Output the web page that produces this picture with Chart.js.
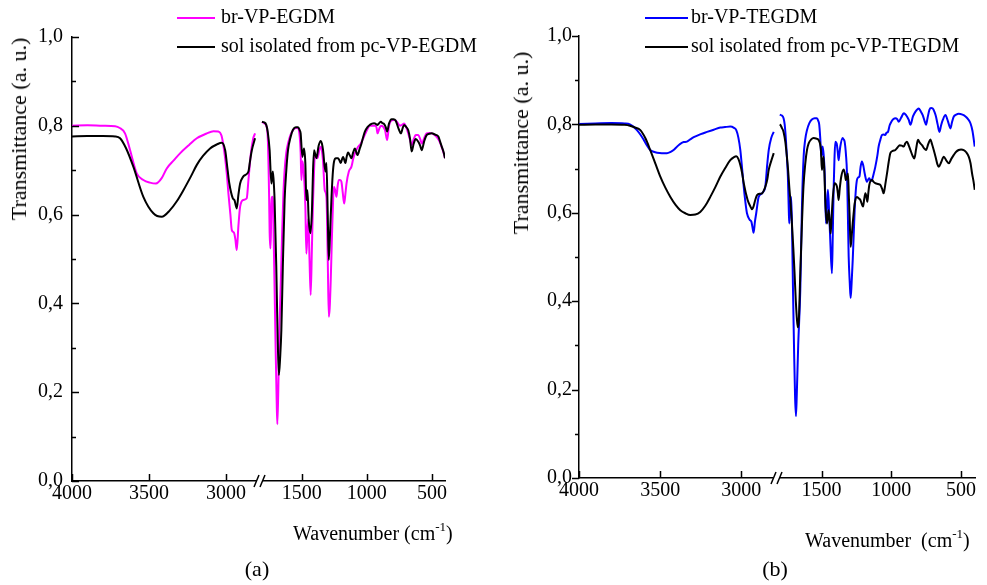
<!DOCTYPE html>
<html>
<head>
<meta charset="utf-8">
<script src="https://cdn.jsdelivr.net/npm/chart.js@4.4.0/dist/chart.umd.min.js"></script>
<style>
html,body{margin:0;padding:0;background:#fff;width:987px;height:585px;overflow:hidden;font-family:"Liberation Serif","Times New Roman",serif;color:#000;}
canvas{position:absolute;top:0;display:block;}
#ca{left:0;}
#cb{left:493px;}
.txt{position:absolute;white-space:nowrap;font-size:20px;line-height:20px;}
.ln{position:absolute;height:2px;}
.ytitle{position:absolute;white-space:nowrap;font-size:22px;line-height:22px;transform:translate(-50%,-50%) rotate(-90deg);}
sup{font-size:13px;position:relative;top:-1px;}
.cap{position:absolute;white-space:nowrap;font-size:22px;line-height:22px;transform:translateX(-50%);}
</style>
</head>
<body>
<canvas id="ca" width="493" height="585"></canvas>
<canvas id="cb" width="494" height="585"></canvas>

<!-- legends -->
<div class="ln" style="left:177px;top:17px;width:38px;background:#ff00ff"></div>
<div class="txt" style="left:221px;top:6px">br-VP-EGDM</div>
<div class="ln" style="left:177px;top:46px;width:38px;background:#000"></div>
<div class="txt" style="left:221px;top:35px">sol isolated from pc-VP-EGDM</div>

<div class="ln" style="left:645px;top:17px;width:43px;background:#0000ff"></div>
<div class="txt" style="left:691px;top:6px">br-VP-TEGDM</div>
<div class="ln" style="left:645px;top:46px;width:43px;background:#000"></div>
<div class="txt" style="left:691px;top:35px">sol isolated from pc-VP-TEGDM</div>

<!-- axis titles -->
<div class="ytitle" style="left:19px;top:129px">Transmittance (a. u.)</div>
<div class="ytitle" style="left:521px;top:143px">Transmittance (a. u.)</div>
<div class="txt" style="left:293px;top:518px">Wavenumber (cm<sup>-1</sup>)</div>
<div class="txt" style="left:805px;top:525px">Wavenumber&nbsp; (cm<sup>-1</sup>)</div>

<!-- captions -->
<div class="cap" style="left:257px;top:558px">(a)</div>
<div class="cap" style="left:775px;top:558px">(b)</div>

<script>
// ---------- data (wavenumber cm-1, transmittance) ----------
const xTicksLeft = [4000, 3500, 3000];
const xTicksRight = [1500, 1000, 500];
const yTickValues = [0, 0.2, 0.4, 0.6, 0.8, 1.0];
const yTickLabels = ['0,0', '0,2', '0,4', '0,6', '0,8', '1,0'];
const yMinorValues = [0.1, 0.3, 0.5, 0.7, 0.9];

const labelsA = ['br-VP-EGDM', 'sol isolated from pc-VP-EGDM'];
const labelsB = ['br-VP-TEGDM', 'sol isolated from pc-VP-TEGDM'];

const brEGDM = [
[4000,0.800],[3900,0.801],[3800,0.800],[3720,0.799],[3690,0.795],[3656,0.783],[3623,0.745],[3580,0.693],[3537,0.678],[3494,0.672],[3455,0.670],[3418,0.682],[3385,0.704],[3340,0.722],[3299,0.738],[3240,0.757],[3190,0.772],[3130,0.782],[3082,0.788],[3050,0.787],[3030,0.778],[3013,0.745],[2995,0.690],[2985,0.648],[2972,0.600],[2963,0.565],[2950,0.560],[2940,0.545],[2931,0.520],[2920,0.575],[2909,0.618],[2888,0.633],[2866,0.637],[2855,0.678],[2840,0.735],[2825,0.770],[2812,0.783],
[1805,0.809],[1790,0.806],[1772,0.800],[1760,0.770],[1750,0.640],[1746,0.560],[1740,0.524],[1736,0.560],[1733,0.625],[1725,0.640],[1721,0.630],[1712,0.500],[1700,0.300],[1692,0.180],[1687,0.128],[1680,0.200],[1672,0.330],[1660,0.450],[1650,0.560],[1640,0.650],[1631,0.700],[1618,0.740],[1605,0.760],[1585,0.780],[1567,0.790],[1545,0.795],[1528,0.795],[1515,0.775],[1508,0.740],[1502,0.678],[1495,0.720],[1485,0.700],[1472,0.620],[1464,0.512],[1456,0.560],[1449,0.590],[1440,0.500],[1431,0.419],[1422,0.520],[1413,0.630],[1405,0.700],[1400,0.730],[1390,0.735],[1379,0.727],[1365,0.745],[1354,0.753],[1345,0.745],[1336,0.720],[1323,0.655],[1310,0.640],[1300,0.500],[1292,0.370],[1285,0.390],[1277,0.453],[1267,0.558],[1258,0.640],[1252,0.663],[1243,0.655],[1233,0.640],[1224,0.665],[1215,0.678],[1205,0.678],[1195,0.674],[1185,0.650],[1174,0.625],[1165,0.645],[1156,0.670],[1138,0.697],[1118,0.708],[1105,0.725],[1092,0.738],[1067,0.753],[1046,0.760],[1030,0.770],[1015,0.780],[995,0.793],[977,0.800],[955,0.800],[933,0.800],[925,0.795],[918,0.783],[905,0.793],[892,0.800],[875,0.798],[860,0.790],[844,0.768],[830,0.800],[810,0.812],[795,0.813],[779,0.812],[760,0.805],[746,0.800],[730,0.802],[713,0.805],[700,0.798],[682,0.783],[670,0.770],[656,0.757],[640,0.770],[625,0.779],[605,0.779],[590,0.770],[579,0.760],[560,0.772],[541,0.783],[520,0.784],[502,0.783],[475,0.778],[451,0.770],[438,0.762],[425,0.752],[410,0.738],[400,0.727]
];

const solEGDM = [
[4000,0.776],[3900,0.777],[3800,0.777],[3720,0.776],[3688,0.772],[3650,0.750],[3602,0.708],[3537,0.640],[3472,0.603],[3418,0.595],[3364,0.610],[3320,0.630],[3277,0.655],[3230,0.685],[3190,0.712],[3150,0.732],[3104,0.749],[3060,0.758],[3028,0.762],[3006,0.745],[2990,0.700],[2979,0.670],[2957,0.637],[2945,0.632],[2931,0.614],[2920,0.645],[2909,0.670],[2890,0.685],[2877,0.689],[2855,0.697],[2845,0.720],[2833,0.745],[2812,0.772],
[1805,0.809],[1790,0.808],[1772,0.802],[1760,0.785],[1746,0.745],[1733,0.670],[1725,0.690],[1721,0.697],[1712,0.660],[1708,0.633],[1695,0.483],[1685,0.330],[1675,0.239],[1665,0.280],[1656,0.340],[1645,0.480],[1631,0.633],[1618,0.700],[1605,0.745],[1585,0.775],[1567,0.791],[1545,0.797],[1528,0.797],[1515,0.790],[1508,0.783],[1495,0.730],[1482,0.749],[1472,0.716],[1464,0.633],[1456,0.655],[1446,0.588],[1433,0.558],[1421,0.610],[1413,0.700],[1405,0.745],[1395,0.735],[1387,0.727],[1370,0.755],[1354,0.766],[1345,0.760],[1336,0.745],[1318,0.697],[1310,0.716],[1300,0.600],[1292,0.498],[1282,0.560],[1272,0.633],[1262,0.690],[1252,0.719],[1237,0.727],[1221,0.727],[1210,0.722],[1200,0.716],[1190,0.725],[1182,0.730],[1164,0.716],[1155,0.730],[1144,0.740],[1130,0.733],[1118,0.727],[1105,0.740],[1092,0.749],[1072,0.734],[1055,0.748],[1041,0.760],[1028,0.775],[1015,0.787],[995,0.797],[977,0.802],[960,0.805],[944,0.806],[930,0.804],[918,0.802],[905,0.806],[892,0.809],[880,0.806],[867,0.804],[855,0.797],[844,0.787],[830,0.805],[810,0.815],[795,0.815],[779,0.812],[758,0.795],[738,0.783],[725,0.795],[713,0.802],[700,0.798],[682,0.790],[668,0.770],[656,0.742],[640,0.760],[625,0.770],[605,0.764],[590,0.755],[579,0.745],[560,0.765],[541,0.779],[520,0.782],[502,0.783],[475,0.780],[451,0.776],[438,0.765],[425,0.753],[410,0.740],[400,0.727]
];

const brTEGDM = [
[4000,0.801],[3900,0.802],[3800,0.803],[3720,0.802],[3686,0.800],[3665,0.795],[3643,0.787],[3620,0.776],[3601,0.765],[3580,0.752],[3561,0.742],[3540,0.738],[3519,0.736],[3490,0.735],[3458,0.735],[3435,0.738],[3417,0.742],[3395,0.750],[3376,0.756],[3355,0.760],[3335,0.761],[3315,0.766],[3293,0.771],[3250,0.778],[3211,0.783],[3170,0.788],[3129,0.793],[3100,0.794],[3068,0.795],[3045,0.792],[3031,0.787],[3018,0.770],[3006,0.742],[2995,0.700],[2985,0.659],[2975,0.625],[2965,0.599],[2948,0.584],[2938,0.580],[2930,0.565],[2924,0.555],[2916,0.580],[2908,0.599],[2893,0.636],[2872,0.644],[2860,0.650],[2852,0.659],[2840,0.710],[2831,0.742],[2815,0.770],[2800,0.783],
[1800,0.822],[1785,0.820],[1773,0.814],[1765,0.800],[1756,0.765],[1748,0.720],[1742,0.682],[1735,0.600],[1732,0.576],[1725,0.620],[1718,0.636],[1712,0.560],[1705,0.420],[1697,0.280],[1690,0.180],[1684,0.140],[1678,0.190],[1668,0.300],[1653,0.425],[1641,0.614],[1629,0.727],[1618,0.765],[1605,0.787],[1588,0.803],[1570,0.811],[1550,0.814],[1534,0.814],[1524,0.808],[1517,0.799],[1510,0.770],[1502,0.727],[1493,0.750],[1485,0.730],[1478,0.689],[1469,0.576],[1462,0.610],[1455,0.652],[1446,0.600],[1438,0.538],[1426,0.463],[1420,0.550],[1414,0.652],[1408,0.720],[1402,0.761],[1392,0.757],[1385,0.740],[1378,0.719],[1372,0.735],[1366,0.750],[1349,0.769],[1342,0.766],[1335,0.761],[1325,0.730],[1318,0.689],[1312,0.600],[1306,0.501],[1298,0.440],[1292,0.407],[1285,0.440],[1277,0.493],[1270,0.550],[1263,0.606],[1255,0.650],[1247,0.674],[1238,0.680],[1229,0.682],[1220,0.705],[1211,0.716],[1200,0.705],[1191,0.689],[1175,0.670],[1165,0.676],[1158,0.678],[1148,0.672],[1139,0.674],[1127,0.688],[1115,0.704],[1100,0.730],[1091,0.750],[1079,0.765],[1067,0.776],[1055,0.777],[1043,0.776],[1035,0.781],[1024,0.783],[1012,0.798],[1000,0.806],[985,0.812],[971,0.814],[958,0.812],[947,0.806],[930,0.815],[911,0.825],[900,0.823],[888,0.818],[875,0.810],[863,0.799],[845,0.818],[827,0.829],[804,0.836],[790,0.830],[775,0.821],[762,0.808],[751,0.799],[740,0.815],[727,0.833],[715,0.837],[703,0.836],[690,0.828],[680,0.818],[668,0.800],[655,0.783],[643,0.798],[631,0.810],[612,0.821],[595,0.808],[576,0.791],[565,0.805],[552,0.818],[535,0.822],[517,0.824],[490,0.822],[468,0.818],[450,0.812],[432,0.802],[418,0.785],[402,0.750]
];

const solTEGDM = [
[4000,0.799],[3900,0.800],[3800,0.800],[3720,0.799],[3686,0.797],[3655,0.793],[3622,0.787],[3590,0.768],[3561,0.742],[3530,0.712],[3499,0.682],[3468,0.657],[3437,0.636],[3405,0.618],[3376,0.606],[3345,0.599],[3314,0.595],[3283,0.596],[3253,0.602],[3222,0.616],[3191,0.636],[3160,0.658],[3129,0.682],[3098,0.702],[3068,0.719],[3045,0.726],[3031,0.728],[3018,0.722],[3006,0.708],[2995,0.690],[2985,0.667],[2961,0.629],[2945,0.615],[2934,0.608],[2924,0.615],[2914,0.629],[2903,0.640],[2885,0.643],[2872,0.644],[2852,0.659],[2840,0.675],[2831,0.697],[2815,0.718],[2800,0.735],
[1800,0.800],[1796,0.799],[1785,0.792],[1773,0.783],[1760,0.760],[1749,0.727],[1740,0.695],[1732,0.659],[1722,0.620],[1713,0.576],[1703,0.520],[1694,0.463],[1685,0.400],[1676,0.355],[1670,0.341],[1663,0.360],[1653,0.463],[1641,0.576],[1630,0.660],[1617,0.712],[1605,0.742],[1593,0.757],[1575,0.766],[1557,0.769],[1540,0.768],[1522,0.765],[1512,0.757],[1505,0.742],[1498,0.697],[1492,0.712],[1486,0.727],[1480,0.690],[1474,0.629],[1462,0.576],[1456,0.590],[1450,0.606],[1442,0.580],[1435,0.553],[1428,0.590],[1421,0.629],[1407,0.667],[1398,0.665],[1390,0.659],[1384,0.645],[1378,0.629],[1370,0.655],[1359,0.682],[1342,0.698],[1334,0.690],[1326,0.674],[1318,0.680],[1311,0.689],[1305,0.640],[1299,0.591],[1292,0.523],[1285,0.545],[1277,0.576],[1270,0.600],[1263,0.621],[1247,0.636],[1235,0.633],[1222,0.629],[1212,0.620],[1203,0.614],[1195,0.630],[1186,0.644],[1178,0.635],[1172,0.625],[1165,0.645],[1158,0.663],[1139,0.674],[1127,0.670],[1115,0.667],[1095,0.665],[1079,0.663],[1067,0.655],[1055,0.644],[1043,0.665],[1031,0.689],[1019,0.715],[1007,0.735],[990,0.740],[971,0.742],[955,0.748],[940,0.753],[925,0.752],[911,0.750],[900,0.757],[888,0.761],[875,0.752],[863,0.742],[849,0.730],[835,0.723],[822,0.745],[809,0.765],[795,0.758],[780,0.753],[765,0.746],[751,0.742],[735,0.756],[720,0.766],[708,0.755],[696,0.742],[680,0.723],[670,0.710],[660,0.704],[642,0.715],[624,0.727],[605,0.718],[588,0.712],[570,0.722],[552,0.731],[535,0.738],[517,0.742],[500,0.743],[481,0.742],[463,0.737],[445,0.727],[432,0.712],[421,0.689],[410,0.670],[402,0.652]
];

// ---------- chart building ----------
const FONT = '"Liberation Serif", "Times New Roman", serif';
const LEFT_MIN = 2780;   // left axis segment: 4000 .. 2780
const RIGHT_MAX = 1820;  // right axis segment: 1820 .. 400

const axisDeco = {
  id: 'axisDeco',
  afterDraw(chart, args, opts) {
    const ctx = chart.ctx;
    const ya = chart.scales.y, xl = chart.scales.xL, xr = chart.scales.xR;
    const bottom = chart.chartArea.bottom, left = chart.chartArea.left;
    ctx.save();
    ctx.strokeStyle = '#000';
    ctx.lineWidth = 1.5;
    ctx.beginPath();
    [xl, xr].forEach(s => s.ticks.forEach(t => {
      const px = Math.round(s.getPixelForValue(t.value)) + 0.5;
      ctx.moveTo(px, bottom); ctx.lineTo(px, bottom - 7);
    }));
    ya.ticks.forEach(t => {
      const py = Math.round(ya.getPixelForValue(t.value)) + 0.5;
      ctx.moveTo(left, py); ctx.lineTo(left + opts.dir * 7, py);
    });
    yMinorValues.forEach(v => {
      const py = Math.round(ya.getPixelForValue(v)) + 0.5;
      ctx.moveTo(left, py); ctx.lineTo(left + opts.dir * 4, py);
    });
    ctx.stroke();
    // axis break marks
    const bx = xl.right;
    ctx.fillStyle = '#fff';
    ctx.fillRect(bx - 3, bottom - 2, 6, 4);
    ctx.beginPath();
    ctx.moveTo(bx - 6, bottom + 6); ctx.lineTo(bx - 1, bottom - 6);
    ctx.moveTo(bx + 0, bottom + 6); ctx.lineTo(bx + 5, bottom - 6);
    ctx.stroke();
    ctx.restore();
  }
};

function toXY(arr, keep) {
  return arr.filter(p => keep(p[0])).map(p => ({x: p[0], y: p[1]}));
}

function buildChart(id, cfg) {
  const datasets = [];
  cfg.series.forEach(s => {
    const common = {
      label: s.label, yAxisID: 'y', borderColor: s.color, backgroundColor: s.color,
      borderWidth: 2, pointRadius: 0, fill: false, order: s.order,
      cubicInterpolationMode: 'monotone'
    };
    datasets.push(Object.assign({}, common, {xAxisID: 'xL', data: toXY(s.data, w => w >= LEFT_MIN)}));
    datasets.push(Object.assign({}, common, {xAxisID: 'xR', data: toXY(s.data, w => w <= RIGHT_MAX)}));
  });
  const xCommon = {
    type: 'linear', position: 'bottom', stack: 'wn', reverse: true,
    grid: {display: false, drawTicks: false},
    border: {display: true, color: '#000', width: 1.5},
    ticks: {color: '#000', font: {family: FONT, size: 20}, padding: 1, maxRotation: 0, autoSkip: false,
            callback: v => String(v)},
    afterFit: s => { s.height = 30; }
  };
  new Chart(document.getElementById(id), {
    type: 'line',
    data: {datasets},
    options: {
      responsive: false, animation: false, devicePixelRatio: 1,
      layout: {padding: {left: 0, right: cfg.padR, top: cfg.padT, bottom: cfg.padB}},
      plugins: {legend: {display: false}, tooltip: {enabled: false}, axisDeco: {dir: cfg.tickDir}},
      scales: {
        xL: Object.assign({}, xCommon, {
          min: LEFT_MIN, max: 4000, stackWeight: cfg.wL,
          afterBuildTicks: s => { s.ticks = xTicksLeft.map(v => ({value: v})); }
        }),
        xR: Object.assign({}, xCommon, {
          min: 400, max: RIGHT_MAX, stackWeight: cfg.wR,
          afterBuildTicks: s => { s.ticks = xTicksRight.map(v => ({value: v})); }
        }),
        y: {
          type: 'linear', position: 'left', min: 0, max: 1,
          grid: {display: false, drawTicks: false},
          border: {display: true, color: '#000', width: 1.5},
          afterBuildTicks: s => { s.ticks = yTickValues.map(v => ({value: v})); },
          afterFit: s => { s.width = cfg.yW; },
          ticks: {color: '#000', font: {family: FONT, size: 20}, padding: cfg.yPad,
                  callback: (v, i) => yTickLabels[i]}
        }
      }
    },
    plugins: [axisDeco]
  });
}

buildChart('ca', {
  series: [
    {label: labelsA[0], data: brEGDM, color: '#ff00ff', order: 2},
    {label: labelsA[1], data: solEGDM, color: '#000000', order: 1}
  ],
  padR: 48, padT: 37, padB: 74, yW: 72, yPad: 9, wL: 188, wR: 185, tickDir: 1
});

buildChart('cb', {
  series: [
    {label: labelsB[0], data: brTEGDM, color: '#0000ff', order: 2},
    {label: labelsB[1], data: solTEGDM, color: '#000000', order: 1}
  ],
  padR: 12, padT: 36, padB: 77, yW: 86, yPad: 7, wL: 198, wR: 198, tickDir: -1
});
</script>
</body>
</html>
